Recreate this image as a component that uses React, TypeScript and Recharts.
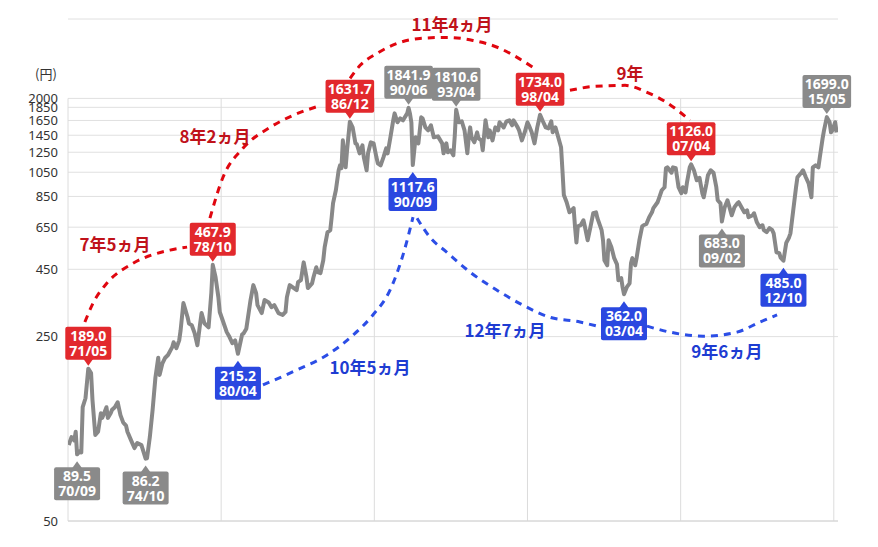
import React from 'react';
import { LineChart, Line, XAxis, YAxis, CartesianGrid, ReferenceLine, ReferenceDot } from 'recharts';

type Pt = [string, number];

// monthly-ish closes, 'YYYY/MM'
const prices1970s: Pt[] = [
  ['1970/03', 97], ['1970/05', 104], ['1970/07', 101], ['1970/08', 109], ['1970/09', 89.5],
  ['1970/11', 92], ['1970/12', 91], ['1971/01', 135], ['1971/03', 146], ['1971/05', 189.0],
  ['1971/07', 182], ['1971/08', 144], ['1971/10', 106], ['1971/12', 109], ['1972/02', 128],
  ['1972/03', 123], ['1972/06', 135], ['1972/07', 123], ['1972/09', 128], ['1972/10', 132],
  ['1972/12', 135], ['1973/02', 141], ['1973/04', 126], ['1973/06', 118], ['1973/08', 115],
  ['1973/09', 109], ['1973/12', 100], ['1974/02', 94.5], ['1974/04', 98.7], ['1974/07', 97],
  ['1974/10', 86.2], ['1974/11', 86.5], ['1975/01', 104], ['1975/03', 132], ['1975/05', 175],
  ['1975/07', 208], ['1975/08', 179], ['1975/10', 198], ['1975/12', 208], ['1976/02', 213],
  ['1976/05', 228], ['1976/06', 238], ['1976/08', 226], ['1976/10', 242], ['1976/11', 264],
  ['1977/01', 335], ['1977/04', 296], ['1977/05', 280], ['1977/07', 276], ['1977/09', 258],
  ['1977/11', 232], ['1978/01', 281], ['1978/02', 307], ['1978/04', 281], ['1978/07', 271],
  ['1978/09', 368], ['1978/10', 467.9], ['1978/12', 420], ['1979/02', 353], ['1979/03', 310],
  ['1979/05', 289], ['1979/08', 260], ['1979/10', 249], ['1979/12', 236],
];

const prices1980s: Pt[] = [
  ['1980/02', 242], ['1980/04', 215.2], ['1980/07', 255], ['1980/08', 257], ['1980/10', 268],
  ['1981/01', 344], ['1981/03', 392], ['1981/05', 365], ['1981/06', 329], ['1981/09', 307],
  ['1981/11', 344], ['1982/02', 337], ['1982/04', 323], ['1982/06', 329], ['1982/09', 307],
  ['1982/12', 302], ['1983/02', 310], ['1983/03', 353], ['1983/05', 392], ['1983/07', 385],
  ['1983/10', 375], ['1983/11', 402], ['1984/01', 409], ['1984/03', 478], ['1984/05', 420],
  ['1984/06', 382], ['1984/09', 398], ['1984/10', 420], ['1984/12', 458], ['1985/01', 439],
  ['1985/03', 435], ['1985/05', 487], ['1985/06', 546], ['1985/08', 621], ['1985/10', 633],
  ['1985/11', 708], ['1985/12', 802], ['1986/02', 897], ['1986/04', 1068], ['1986/05', 1115],
  ['1986/06', 1087], ['1986/07', 1387], ['1986/09', 1096], ['1986/10', 1271], ['1986/12', 1631.7],
  ['1987/02', 1554], ['1987/04', 1351], ['1987/05', 1340], ['1987/07', 1238], ['1987/09', 1328],
  ['1987/10', 1196], ['1987/12', 1068], ['1988/01', 1238], ['1988/03', 1363], ['1988/05', 1351],
  ['1988/07', 1196], ['1988/08', 1135], ['1988/10', 1115], ['1988/12', 1196], ['1989/02', 1294],
  ['1989/03', 1238], ['1989/05', 1424], ['1989/07', 1652], ['1989/08', 1755], ['1989/10', 1624],
  ['1989/12', 1681],
];

const prices1990s: Pt[] = [
  ['1990/02', 1652], ['1990/05', 1755], ['1990/06', 1841.9], ['1990/07', 1750], ['1990/08', 1620],
  ['1990/09', 1117.6], ['1990/11', 1424], ['1991/01', 1351], ['1991/03', 1695], ['1991/04', 1681],
  ['1991/06', 1553], ['1991/08', 1513], ['1991/10', 1581], ['1991/12', 1424], ['1992/03', 1436],
  ['1992/06', 1351], ['1992/07', 1238], ['1992/09', 1351], ['1992/10', 1250], ['1992/12', 1271],
  ['1993/02', 1217], ['1993/03', 1440], ['1993/04', 1810.6], ['1993/06', 1624], ['1993/08', 1638],
  ['1993/10', 1513], ['1993/12', 1238], ['1994/01', 1424], ['1994/02', 1553], ['1994/03', 1424],
  ['1994/05', 1363], ['1994/07', 1487], ['1994/08', 1411], ['1994/10', 1387], ['1994/11', 1271],
  ['1995/01', 1652], ['1995/03', 1424], ['1995/04', 1513], ['1995/06', 1387], ['1995/08', 1553],
  ['1995/10', 1513], ['1995/11', 1624], ['1996/02', 1553], ['1996/04', 1638], ['1996/06', 1652],
  ['1996/08', 1581], ['1996/09', 1652], ['1996/12', 1553], ['1997/01', 1513], ['1997/03', 1387],
  ['1997/05', 1486], ['1997/07', 1624], ['1997/08', 1581], ['1997/10', 1487], ['1997/12', 1351],
  ['1998/02', 1553], ['1998/03', 1638], ['1998/04', 1734.0], ['1998/06', 1638], ['1998/08', 1553],
  ['1998/10', 1540], ['1998/12', 1638], ['1999/01', 1487], ['1999/03', 1553], ['1999/05', 1424],
  ['1999/07', 1306], ['1999/08', 1068], ['1999/09', 860], ['1999/11', 808],
];

const prices2000s: Pt[] = [
  ['2000/01', 740], ['2000/04', 767], ['2000/05', 650], ['2000/06', 568], ['2000/07', 655],
  ['2000/09', 661], ['2000/11', 690], ['2000/12', 655], ['2001/02', 580], ['2001/04', 650],
  ['2001/06', 734], ['2001/08', 740], ['2001/09', 703], ['2001/12', 633], ['2002/01', 580],
  ['2002/02', 487], ['2002/04', 466], ['2002/05', 580], ['2002/07', 545], ['2002/09', 496],
  ['2002/11', 470], ['2002/12', 409], ['2003/02', 417], ['2003/03', 385], ['2003/04', 362.0],
  ['2003/06', 385], ['2003/08', 398], ['2003/09', 474], ['2003/10', 496], ['2003/12', 466],
  ['2004/01', 496], ['2004/03', 580], ['2004/05', 655], ['2004/06', 661], ['2004/08', 668],
  ['2004/10', 709], ['2004/12', 740], ['2005/01', 767], ['2005/04', 808], ['2005/05', 836],
  ['2005/07', 897], ['2005/09', 921], ['2005/10', 1087], ['2005/11', 1096], ['2006/02', 1046],
  ['2006/03', 1096], ['2006/05', 1087], ['2006/07', 921], ['2006/09', 874], ['2006/10', 921],
  ['2006/12', 880], ['2007/01', 958], ['2007/03', 1096], ['2007/04', 1126.0], ['2007/06', 1068],
  ['2007/08', 979], ['2007/10', 1000], ['2007/12', 874], ['2008/01', 844], ['2008/03', 953],
  ['2008/04', 1022], ['2008/06', 1068], ['2008/08', 1046], ['2008/10', 921], ['2008/11', 822],
  ['2009/01', 800], ['2009/02', 683.0], ['2009/04', 774], ['2009/06', 822], ['2009/07', 787],
  ['2009/09', 721], ['2009/11', 774],
];

const prices2010s: Pt[] = [
  ['2010/01', 800], ['2010/02', 808], ['2010/04', 774], ['2010/06', 740], ['2010/08', 753],
  ['2010/09', 709], ['2010/12', 721], ['2011/01', 734], ['2011/03', 678], ['2011/05', 650],
  ['2011/07', 661], ['2011/08', 633], ['2011/10', 622], ['2011/12', 644], ['2012/02', 633],
  ['2012/03', 616], ['2012/05', 522], ['2012/07', 518], ['2012/08', 498], ['2012/10', 485.0],
  ['2012/12', 567], ['2013/02', 594], ['2013/03', 616], ['2013/05', 753], ['2013/07', 921],
  ['2013/08', 1005], ['2013/11', 1050], ['2013/12', 1068], ['2014/02', 1005], ['2014/04', 953],
  ['2014/06', 844], ['2014/07', 1096], ['2014/09', 1115], ['2014/11', 1096], ['2014/12', 1196],
  ['2015/02', 1411], ['2015/03', 1513], ['2015/05', 1699.0], ['2015/07', 1624], ['2015/08', 1487],
  ['2015/09', 1513], ['2015/11', 1624], ['2015/12', 1487],
];

const yTicks = [50, 250, 450, 650, 850, 1050, 1250, 1450, 1650, 1850, 2000];
const xGridYears = [1970.125, 1979.25, 1988.375, 1997.5, 2006.625, 2015.75];

type Kind = 'red' | 'blue' | 'gray';

// [date, value, colour, box above (peak) / below (trough)]
const callouts: [string, number, Kind, 'above' | 'below'][] = [
  ['1970/09', 89.5, 'gray', 'below'],
  ['1971/05', 189.0, 'red', 'above'],
  ['1974/10', 86.2, 'gray', 'below'],
  ['1978/10', 467.9, 'red', 'above'],
  ['1980/04', 215.2, 'blue', 'below'],
  ['1986/12', 1631.7, 'red', 'above'],
  ['1990/06', 1841.9, 'gray', 'above'],
  ['1990/09', 1117.6, 'blue', 'below'],
  ['1993/04', 1810.6, 'gray', 'above'],
  ['1998/04', 1734.0, 'red', 'above'],
  ['2003/04', 362.0, 'blue', 'below'],
  ['2007/04', 1126.0, 'red', 'above'],
  ['2009/02', 683.0, 'gray', 'below'],
  ['2012/10', 485.0, 'blue', 'below'],
  ['2015/05', 1699.0, 'gray', 'above'],
];

// dashed span arcs, [year, value] control points
const redArcs: [number, number][][] = [
  [[1971.13, 284], [1971.62, 335], [1972.45, 399], [1974.0, 474], [1976.2, 532], [1977.22, 546]],
  [[1978.58, 703], [1979.36, 1005], [1980.55, 1294], [1982.16, 1553], [1983.53, 1725], [1985.02, 1866]],
  [[1986.93, 2382], [1987.53, 2669], [1988.53, 2963], [1989.73, 3232], [1991.09, 3377], [1992.7, 3407],
    [1994.25, 3318], [1995.86, 3095], [1996.88, 2861], [1997.83, 2622]],
  [[2000.03, 2146], [2001.53, 2222], [2003.31, 2241], [2004.62, 2109], [2005.69, 1948], [2007.18, 1652]],
];

const blueArcs: [number, number][][] = [
  [[1981.74, 164], [1983.77, 187], [1985.56, 213], [1987.1, 253], [1988.29, 302], [1989.31, 375],
    [1990.08, 509], [1990.68, 709]],
  [[1990.92, 703], [1991.69, 595], [1992.7, 522], [1994.08, 439], [1995.68, 375], [1997.23, 329],
    [1998.84, 296], [2000.63, 284], [2001.64, 274]],
  [[2004.62, 274], [2005.99, 260], [2007.96, 251], [2009.98, 260], [2011.35, 284], [2012.37, 302]],
];

const spanLabels: [string, number, number, 'red' | 'blue'][] = [
  ['7年5ヵ月', 1972.93, 565, 'red'],
  ['8年2ヵ月', 1978.88, 1449, 'red'],
  ['11年4ヵ月', 1993.0, 3848, 'red'],
  ['9年', 2003.61, 2511, 'red'],
  ['10年5ヵ月', 1988.12, 192, 'blue'],
  ['12年7ヵ月', 1996.16, 265, 'blue'],
  ['9年6ヵ月', 2009.38, 222, 'blue'],
];

const toYear = (d: string) => {
  const [y, m] = d.split('/').map(Number);
  return y + (m - 1) / 12;
};

const priceData = [...prices1970s, ...prices1980s, ...prices1990s, ...prices2000s, ...prices2010s].map(
  ([d, v]) => ({ t: toYear(d), price: v })
);

const BOX_FILL: Record<Kind, string> = { red: '#e2292d', blue: '#2a48e0', gray: '#8a8a8a' };
const ARC_STROKE = { red: '#e0060f', blue: '#2c4ee6' };
const SPAN_TEXT = { red: '#c0121a', blue: '#1e3cd2' };

const FONT = '"Noto Sans", "Noto Sans CJK JP", sans-serif';

// rough width of a bold 14px label
const textW = (s: string) =>
  s.split('').reduce((w, c) => w + (c === '.' ? 3.6 : c === '/' ? 5 : 7.8), 0);

const Callout = ({ cx, cy, value, date, kind, pos }: any) => {
  const l1 = value.toFixed(1);
  const l2 = date.slice(2);
  const w = Math.max(46, textW(l1) + 6, textW(l2) + 8);
  const h = 33;
  let top: number;
  let arrow: string;
  if (pos === 'above') {
    const tip = cy - 3;
    const bottom = tip - 6;
    top = bottom - h;
    arrow = `M${cx - 5},${bottom - 1} L${cx + 5},${bottom - 1} L${cx},${tip} Z`;
  } else {
    const tip = cy + 7;
    top = tip + 6;
    arrow = `M${cx - 5},${top + 1} L${cx + 5},${top + 1} L${cx},${tip} Z`;
  }
  const fill = BOX_FILL[kind as Kind];
  return (
    <g>
      <rect x={cx - w / 2} y={top} width={w} height={h} rx={2} fill={fill} />
      <path d={arrow} fill={fill} />
      <text x={cx} y={top + 14} textAnchor="middle" fill="#fff" fontSize={14} fontWeight={700} fontFamily={FONT}>
        {l1}
      </text>
      <text x={cx} y={top + 29} textAnchor="middle" fill="#fff" fontSize={14} fontWeight={700} fontFamily={FONT}>
        {l2}
      </text>
    </g>
  );
};

const App: React.FC = () => {
  return (
    <div style={{ position: 'relative', width: 878, height: 547 }}>
      <style>{'body{margin:0}'}</style>
      <span
        style={{
          position: 'absolute',
          left: 35,
          top: 64,
          fontSize: 13,
          color: '#333',
          fontFamily: '"Noto Sans CJK JP", sans-serif',
        }}
      >
        (円)
      </span>
      <LineChart
        width={878}
        height={547}
        data={priceData}
        margin={{ top: 19, right: 40, bottom: 25, left: 8 }}
        style={{ fontFamily: FONT }}
      >
        <CartesianGrid vertical={false} stroke="#e0e0e0" />
        {xGridYears.map((t) => (
          <ReferenceLine
            key={t}
            segment={[{ x: t, y: 50 }, { x: t, y: 2000 }]}
            stroke="#dcdcdc"
            strokeWidth={1}
          />
        ))}
        <XAxis
          type="number"
          dataKey="t"
          domain={[1970.125, 2016]}
          allowDataOverflow
          tick={false}
          tickLine={false}
          axisLine={{ stroke: '#d4d4d4' }}
          height={1}
        />
        <YAxis
          scale="log"
          domain={[50, 4000]}
          allowDataOverflow
          ticks={yTicks}
          interval={0}
          width={60}
          axisLine={false}
          tickLine={false}
          tickSize={0}
          tickMargin={10}
          tick={{ fill: '#333', fontSize: 13 }}
        />
        <Line
          type="linear"
          dataKey="price"
          stroke="#888888"
          strokeWidth={4}
          strokeLinejoin="round"
          dot={false}
          isAnimationActive={false}
        />
        {redArcs.map((arc, i) => (
          <Line
            key={`r${i}`}
            data={arc.map(([t, v]) => ({ t, v }))}
            dataKey="v"
            type="monotone"
            stroke={ARC_STROKE.red}
            strokeWidth={3}
            strokeDasharray="7 6"
            dot={false}
            isAnimationActive={false}
          />
        ))}
        {blueArcs.map((arc, i) => (
          <Line
            key={`b${i}`}
            data={arc.map(([t, v]) => ({ t, v }))}
            dataKey="v"
            type="monotone"
            stroke={ARC_STROKE.blue}
            strokeWidth={3}
            strokeDasharray="7 6"
            dot={false}
            isAnimationActive={false}
          />
        ))}
        {spanLabels.map(([txt, t, v, c]) => (
          <ReferenceDot
            key={txt + t}
            x={t}
            y={v}
            r={1}
            shape={(p: any) => (
              <text
                x={p.cx}
                y={p.cy}
                textAnchor="middle"
                dominantBaseline="central"
                fill={SPAN_TEXT[c]}
                fontSize={17}
                fontWeight={700}
                fontFamily='"Noto Sans CJK JP", sans-serif'
              >
                {txt}
              </text>
            )}
          />
        ))}
        {callouts.map(([d, v, kind, pos]) => (
          <ReferenceDot
            key={d}
            x={toYear(d)}
            y={v}
            r={1}
            shape={(p: any) => <Callout cx={p.cx} cy={p.cy} value={v} date={d} kind={kind} pos={pos} />}
          />
        ))}
      </LineChart>
    </div>
  );
};

export default App;
